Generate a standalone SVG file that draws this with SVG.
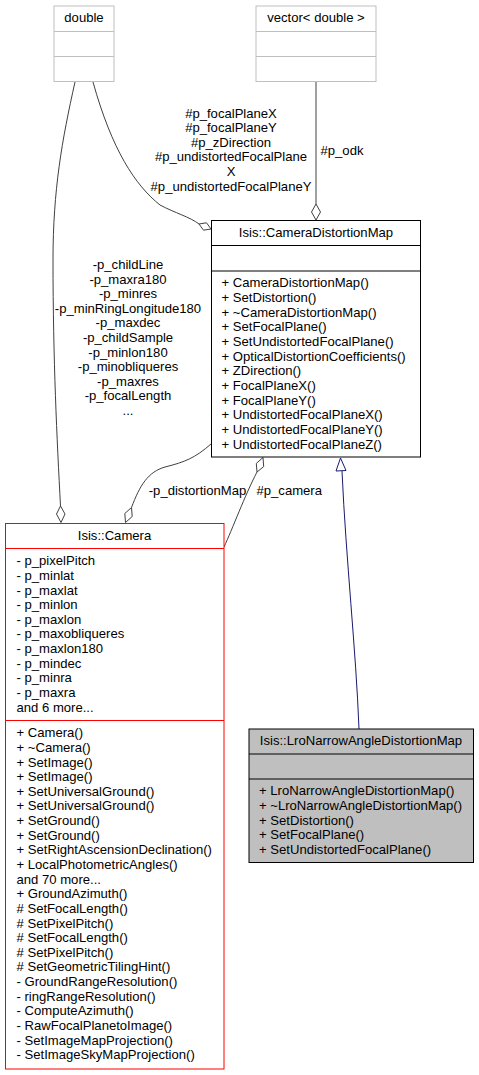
<svg xmlns="http://www.w3.org/2000/svg" width="479" height="1075" viewBox="0 0 479 1075">
<style>
text{font-family:"Liberation Sans",Arial,sans-serif;font-size:13.1px;fill:#000}
.c{text-anchor:middle}
.e{fill:none;stroke:#404040;stroke-width:1}
.d{fill:#fff;stroke:#404040;stroke-width:1}
.inh{fill:none;stroke:#191970;stroke-width:1}
.tri{fill:#fff;stroke:#191970;stroke-width:1}
.gb{fill:#fff;stroke:#bfbfbf;stroke-width:1}
.bk{fill:#fff;stroke:#000;stroke-width:1}
.rd{fill:#fff;stroke:#ff0000;stroke-width:1}
.gr{fill:#bfbfbf;stroke:#000;stroke-width:1}
</style>
<rect width="479" height="1075" fill="#fff"/>
<g id="connectors">
<path class="e" d="M75,82 C62,140 53,190 53,260 C53,360 57,440 60.5,506"/>
<polygon class="d" points="60.5,506 56.5,514 61,522.5 65,514"/>
<path class="e" d="M93,82 C112,150 135,185 160,205 C175,213 190,217 199,224"/>
<polygon class="d" points="199,224 203.5,230.2 211,229 206.5,222.8"/>
<path class="e" d="M316,82 L316,204"/>
<polygon class="d" points="316,204 311.5,212 316,220 320.5,212"/>
<path class="e" d="M211,444 C195,458 185,462 165,467 C148,472 140,485 131.5,507.5"/>
<polygon class="d" points="131.5,507.5 124.8,513.5 125.5,522.5 132.2,516.5"/>
<path class="e" d="M224,547 C232,530 245,495 257,472"/>
<polygon class="d" points="257,472 263.7,466.6 263,457.5 256.3,463.4"/>
<path class="inh" d="M359,729 C356,650 346,560 342,471"/>
<polygon class="tri" points="340.5,458 336,471 346,470.5"/>
<text class="c" x="231" y="117.7">#p_focalPlaneX</text>
<text class="c" x="231" y="132.2">#p_focalPlaneY</text>
<text class="c" x="231" y="146.9">#p_zDirection</text>
<text class="c" x="231" y="161.4">#p_undistortedFocalPlane</text>
<text class="c" x="231" y="176">X</text>
<text class="c" x="231" y="190.7">#p_undistortedFocalPlaneY</text>
<text x="320.5" y="154.7">#p_odk</text>
<text class="c" x="128" y="269">-p_childLine</text>
<text class="c" x="128" y="283.6">-p_maxra180</text>
<text class="c" x="128" y="298.2">-p_minres</text>
<text class="c" x="128" y="312.8">-p_minRingLongitude180</text>
<text class="c" x="128" y="327.4">-p_maxdec</text>
<text class="c" x="128" y="342">-p_childSample</text>
<text class="c" x="128" y="356.6">-p_minlon180</text>
<text class="c" x="128" y="371.2">-p_minobliqueres</text>
<text class="c" x="128" y="385.8">-p_maxres</text>
<text class="c" x="128" y="400.4">-p_focalLength</text>
<text class="c" x="128" y="415">...</text>
<text class="c" x="197.5" y="494.7">-p_distortionMap</text>
<text x="256.5" y="494.7">#p_camera</text>
</g>
<g id="double">
<rect class="gb" x="54" y="6" width="60" height="75.5"/>
<line class="gb" x1="54" y1="31.5" x2="114" y2="31.5"/>
<line class="gb" x1="54" y1="56.5" x2="114" y2="56.5"/>
<text class="c" x="84" y="22.2">double</text>
</g>
<g id="vector">
<rect class="gb" x="256" y="6" width="120" height="75.5"/>
<line class="gb" x1="256" y1="31.5" x2="376" y2="31.5"/>
<line class="gb" x1="256" y1="56.5" x2="376" y2="56.5"/>
<text class="c" x="316" y="22.2">vector&lt; double &gt;</text>
</g>
<g id="CameraDistortionMap">
<rect class="bk" x="211.5" y="220.5" width="209" height="236.5"/>
<line class="bk" x1="211.5" y1="245.5" x2="420.5" y2="245.5"/>
<line class="bk" x1="211.5" y1="271" x2="420.5" y2="271"/>
<text class="c" x="316" y="236.7">Isis::CameraDistortionMap</text>
<text x="221.5" y="287.2">+ CameraDistortionMap()</text>
<text x="221.5" y="301.9">+ SetDistortion()</text>
<text x="221.5" y="316.5">+ ~CameraDistortionMap()</text>
<text x="221.5" y="331.2">+ SetFocalPlane()</text>
<text x="221.5" y="345.9">+ SetUndistortedFocalPlane()</text>
<text x="221.5" y="360.5">+ OpticalDistortionCoefficients()</text>
<text x="221.5" y="375.2">+ ZDirection()</text>
<text x="221.5" y="389.9">+ FocalPlaneX()</text>
<text x="221.5" y="404.5">+ FocalPlaneY()</text>
<text x="221.5" y="419.2">+ UndistortedFocalPlaneX()</text>
<text x="221.5" y="433.9">+ UndistortedFocalPlaneY()</text>
<text x="221.5" y="448.5">+ UndistortedFocalPlaneZ()</text>
</g>
<g id="Camera">
<rect class="rd" x="5.5" y="523.5" width="218.5" height="545.5"/>
<line class="rd" x1="5.5" y1="548.5" x2="224" y2="548.5"/>
<line class="rd" x1="5.5" y1="720.5" x2="224" y2="720.5"/>
<text class="c" x="114.5" y="539.5">Isis::Camera</text>
<text x="16.5" y="565.2">- p_pixelPitch</text>
<text x="16.5" y="579.8">- p_minlat</text>
<text x="16.5" y="594.5">- p_maxlat</text>
<text x="16.5" y="609.1">- p_minlon</text>
<text x="16.5" y="623.7">- p_maxlon</text>
<text x="16.5" y="638.4">- p_maxobliqueres</text>
<text x="16.5" y="653">- p_maxlon180</text>
<text x="16.5" y="667.6">- p_mindec</text>
<text x="16.5" y="682.3">- p_minra</text>
<text x="16.5" y="696.9">- p_maxra</text>
<text x="16.5" y="711.5">and 6 more...</text>
<text x="16.5" y="737.2">+ Camera()</text>
<text x="16.5" y="751.8">+ ~Camera()</text>
<text x="16.5" y="766.5">+ SetImage()</text>
<text x="16.5" y="781.1">+ SetImage()</text>
<text x="16.5" y="795.8">+ SetUniversalGround()</text>
<text x="16.5" y="810.4">+ SetUniversalGround()</text>
<text x="16.5" y="825">+ SetGround()</text>
<text x="16.5" y="839.7">+ SetGround()</text>
<text x="16.5" y="854.3">+ SetRightAscensionDeclination()</text>
<text x="16.5" y="869">+ LocalPhotometricAngles()</text>
<text x="16.5" y="883.6">and 70 more...</text>
<text x="16.5" y="898.2">+ GroundAzimuth()</text>
<text x="16.5" y="912.9">#&#160;SetFocalLength()</text>
<text x="16.5" y="927.5">#&#160;SetPixelPitch()</text>
<text x="16.5" y="942.2">#&#160;SetFocalLength()</text>
<text x="16.5" y="956.8">#&#160;SetPixelPitch()</text>
<text x="16.5" y="971.4">#&#160;SetGeometricTilingHint()</text>
<text x="16.5" y="986.1">- GroundRangeResolution()</text>
<text x="16.5" y="1000.7">- ringRangeResolution()</text>
<text x="16.5" y="1015.4">- ComputeAzimuth()</text>
<text x="16.5" y="1030">- RawFocalPlanetoImage()</text>
<text x="16.5" y="1044.6">- SetImageMapProjection()</text>
<text x="16.5" y="1059.2">- SetImageSkyMapProjection()</text>
</g>
<g id="LroNarrowAngleDistortionMap">
<rect class="gr" x="249" y="729" width="224.5" height="133.5"/>
<line class="gr" x1="249" y1="754" x2="473.5" y2="754"/>
<line class="gr" x1="249" y1="779" x2="473.5" y2="779"/>
<text class="c" x="361" y="745.2">Isis::LroNarrowAngleDistortionMap</text>
<text x="259" y="795.4">+ LroNarrowAngleDistortionMap()</text>
<text x="259" y="810.1">+ ~LroNarrowAngleDistortionMap()</text>
<text x="259" y="824.7">+ SetDistortion()</text>
<text x="259" y="839.4">+ SetFocalPlane()</text>
<text x="259" y="854">+ SetUndistortedFocalPlane()</text>
</g>
</svg>
